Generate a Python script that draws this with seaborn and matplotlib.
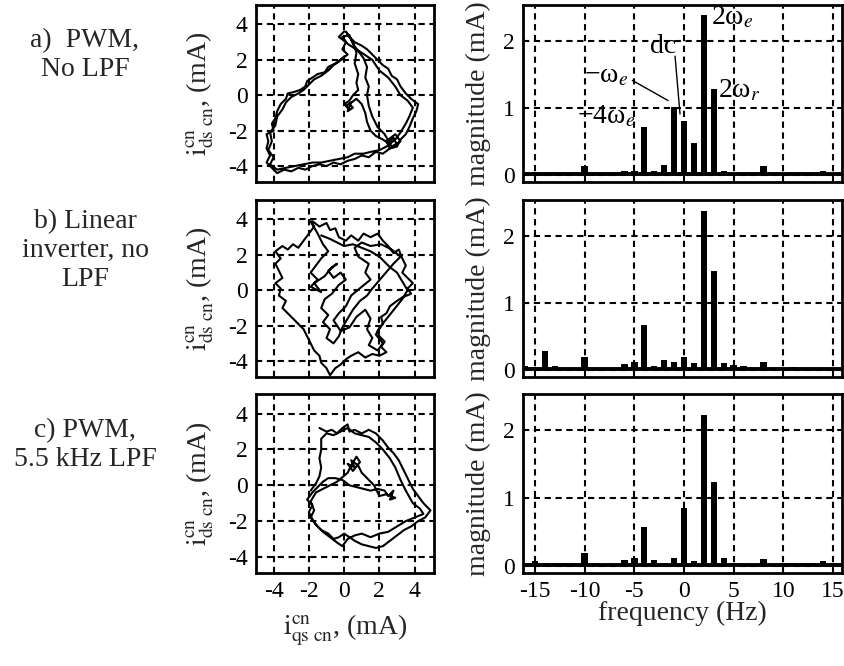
import matplotlib
matplotlib.use("Agg")
import matplotlib.pyplot as plt
import seaborn as sns
import pandas as pd

sns.set_style("white")
plt.rcParams["font.family"] = ["Liberation Serif", "DejaVu Serif"]
plt.rcParams["mathtext.fontset"] = "stix"
plt.rcParams["axes.unicode_minus"] = False

# ---------------- data ----------------
row_titles = ["a)  PWM,\nNo LPF", "b) Linear\ninverter, no\nLPF", "c) PWM,\n5.5 kHz LPF"]

freq = list(range(-16, 17))
mag_a = [0.04, 0.05, 0.04, 0.02, 0.04, 0.04, 0.14, 0.04, 0.02, 0.04, 0.07, 0.07, 0.72, 0.06, 0.15, 1.01,
         0.80, 0.48, 2.38, 1.28, 0.065, 0.03, 0.04, 0.02, 0.14, 0.04, 0.03, 0.02, 0.02, 0.02, 0.06, 0.03, 0.03]
mag_b = [0.07, 0.05, 0.29, 0.07, 0.02, 0.02, 0.19, 0.02, 0.02, 0.02, 0.10, 0.13, 0.67, 0.07, 0.16, 0.12,
         0.20, 0.11, 2.36, 1.47, 0.11, 0.08, 0.06, 0.04, 0.13, 0.035, 0.035, 0.045, 0.02, 0.035, 0.035, 0.035, 0.035]
mag_c = [0.05, 0.07, 0.05, 0.04, 0.04, 0.05, 0.20, 0.05, 0.03, 0.03, 0.085, 0.12, 0.57, 0.085, 0.05, 0.12,
         0.86, 0.08, 2.22, 1.23, 0.12, 0.04, 0.03, 0.03, 0.10, 0.03, 0.04, 0.04, 0.04, 0.04, 0.08, 0.04, 0.04]

traj_a = [(0.0, 3.6), (-0.3, 3.3), (0.1, 3.0), (-0.1, 2.6), (0.2, 2.3), (-0.2, 2.0), (-0.5, 1.8), (-0.9, 1.6),
          (-1.1, 1.3), (-1.5, 1.2), (-1.8, 1.0), (-2.1, 0.8), (-2.2, 0.5), (-2.5, 0.3), (-2.8, 0.2), (-3.2, 0.1),
          (-3.3, -0.2), (-3.6, -0.5), (-3.8, -0.9), (-3.9, -1.3), (-4.1, -1.6), (-4.0, -2.0), (-4.4, -2.2),
          (-4.3, -2.6), (-4.4, -3.0), (-4.2, -3.4), (-4.4, -3.8), (-4.1, -4.1), (-3.8, -4.4), (-3.4, -4.2),
          (-3.0, -4.3), (-2.6, -4.1), (-2.2, -4.2), (-1.8, -4.0), (-1.4, -3.9), (-1.0, -4.0), (-0.6, -3.8),
          (-0.2, -3.9), (0.2, -3.7), (0.6, -3.6), (1.0, -3.4), (1.4, -3.5), (1.8, -3.2), (2.2, -3.3), (2.6, -3.0),
          (3.0, -2.9), (3.2, -2.5), (3.5, -2.2), (3.7, -1.8), (3.9, -1.3), (4.1, -0.9), (4.2, -0.5), (3.8, -0.2),
          (3.5, 0.1), (3.2, 0.5), (3.0, 0.9), (2.7, 1.1), (2.5, 1.5), (2.2, 1.7), (1.9, 2.0), (1.6, 2.3),
          (1.3, 2.6), (1.0, 2.8), (0.6, 3.0), (0.3, 3.3), (0.1, 3.6), (0.5, 3.0), (0.7, 2.4), (0.6, 1.8),
          (0.8, 1.2), (0.7, 0.7), (0.8, 0.3), (0.5, 0.0), (0.3, -0.3), (0.0, -0.5), (0.3, -0.8), (0.1, -0.6),
          (0.4, -0.4), (0.2, -0.9), (0.5, -0.7), (0.3, -0.5), (0.7, -0.2), (1.0, -0.5), (1.2, -1.0), (1.3, -1.5),
          (1.5, -2.0), (1.8, -2.3), (2.2, -2.5), (2.5, -2.7), (2.8, -2.4), (3.0, -2.8), (2.6, -3.0), (2.4, -2.6),
          (2.9, -2.2), (3.2, -2.6), (2.7, -2.9), (2.3, -2.2), (1.9, -1.8), (1.6, -1.2), (1.4, -0.6), (1.3, 0.0),
          (1.4, 0.5), (1.2, 1.0), (1.3, 1.6), (1.1, 2.1), (0.8, 2.5), (0.5, 2.9), (0.3, 3.4), (-0.1, 3.3),
          (0.2, 2.9), (1.0, 2.4), (1.6, 2.0), (2.0, 1.4), (2.5, 1.0), (2.9, 0.5), (3.2, 0.0), (3.6, -0.3),
          (3.9, -0.7), (3.7, -1.2), (3.5, -1.6), (3.2, -2.1), (2.9, -2.5), (2.4, -2.9), (2.0, -3.1), (1.5, -3.2),
          (1.1, -3.3), (0.6, -3.3), (0.2, -3.5), (-0.3, -3.6), (-0.8, -3.7), (-1.3, -3.8), (-1.8, -3.8),
          (-2.3, -3.9), (-2.8, -4.0), (-3.3, -4.1), (-3.8, -4.2), (-4.2, -3.9), (-4.0, -3.5), (-4.3, -3.1),
          (-4.1, -2.6), (-4.2, -2.1), (-3.9, -1.7), (-3.8, -1.2), (-3.5, -0.8), (-3.3, -0.4), (-3.0, -0.1),
          (-2.6, 0.1), (-2.3, 0.3), (-2.0, 0.6), (-1.7, 0.9), (-1.3, 1.1), (-0.9, 1.4), (-0.6, 1.7), (-0.3, 1.9),
          (0.0, 2.2)]

traj_b = [(-1.8, 3.9), (-1.4, 3.6), (-1.0, 3.8), (-0.8, 3.4), (-0.5, 3.5), (-0.3, 3.0), (0.1, 2.8), (0.4, 3.1),
          (0.8, 2.8), (1.1, 3.2), (1.5, 3.0), (1.9, 3.2), (2.2, 2.8), (2.5, 2.5), (2.8, 2.1), (3.1, 2.3),
          (3.3, 1.8), (3.5, 1.4), (3.3, 1.0), (3.6, 0.7), (3.9, 0.4), (3.6, 0.1), (3.8, -0.2), (3.3, -0.4),
          (3.0, -0.6), (2.6, -0.9), (2.4, -1.3), (2.1, -1.5), (2.2, -1.9), (1.9, -2.3), (2.0, -2.6), (2.3, -2.9),
          (2.1, -3.2), (2.4, -3.5), (2.0, -3.7), (1.6, -3.6), (1.2, -3.8), (0.8, -3.5), (0.4, -3.7), (0.1, -3.9),
          (-0.2, -4.2), (-0.5, -4.4), (-0.8, -4.8), (-1.0, -4.4), (-1.3, -4.1), (-1.4, -3.7), (-1.7, -3.4),
          (-1.9, -3.0), (-2.1, -2.6), (-2.3, -2.2), (-2.6, -1.9), (-2.9, -1.6), (-3.2, -1.3), (-3.5, -1.0),
          (-3.3, -0.6), (-3.7, -0.3), (-3.6, 0.1), (-3.9, 0.4), (-3.5, 0.7), (-3.7, 1.1), (-3.9, 1.5),
          (-3.6, 1.8), (-3.9, 2.2), (-3.5, 2.5), (-3.2, 2.3), (-2.9, 2.6), (-2.6, 2.4), (-2.3, 2.8), (-2.0, 3.2),
          (-1.7, 3.6), (-1.9, 3.9), (-1.5, 3.2), (-1.2, 2.6), (-0.9, 2.2), (-1.3, 1.8), (-1.6, 1.4), (-1.9, 1.0),
          (-1.5, 0.6), (-1.9, 0.2), (-1.3, -0.1), (-1.7, 0.4), (-1.1, 0.8), (-0.7, 1.3), (-0.4, 1.5),
          (-0.9, 1.1), (-0.6, 0.7), (-0.2, 1.0), (0.1, 0.6), (-0.3, 0.3), (-0.7, -0.2), (-1.1, -0.5),
          (-1.3, -1.0), (-0.9, -1.4), (-1.2, -1.8), (-0.8, -2.2), (-1.0, -2.7), (-0.6, -3.0), (-0.3, -2.6),
          (-0.1, -2.1), (0.2, -1.6), (0.5, -1.1), (0.9, -0.6), (1.3, -0.3), (1.6, 0.1), (2.2, 0.8), (2.8, 1.5),
          (3.2, 1.9), (2.7, 2.3), (2.1, 2.6), (1.5, 2.5), (1.0, 2.7), (0.6, 2.4), (0.8, 1.9), (1.4, 1.5),
          (1.2, 1.0), (1.5, 0.6), (1.0, 0.2), (0.4, -0.3), (0.1, -0.9), (-0.3, -1.3), (-0.6, -1.7), (-0.2, -2.3),
          (0.3, -2.1), (0.7, -1.5), (1.2, -1.1), (1.5, -1.6), (1.3, -2.2), (1.6, -2.7), (1.4, -3.1), (1.9, -3.4),
          (2.2, -3.0), (1.8, -2.5), (2.1, -2.0), (2.5, -1.5), (2.9, -1.0), (3.3, -0.5), (3.6, 0.0), (3.3, 0.5),
          (3.0, 1.0), (2.6, 1.3), (2.0, 1.9), (1.5, 2.2), (1.0, 2.4), (0.5, 2.6), (0.0, 2.5), (-0.4, 2.7),
          (-0.8, 2.9), (-1.3, 3.1)]

traj_c = [(-1.4, 3.2), (-1.0, 3.0), (-0.7, 3.1), (-0.4, 2.9), (-0.1, 3.2), (0.2, 3.4), (0.3, 3.0), (0.6, 3.1),
          (1.0, 2.9), (1.4, 3.1), (1.8, 2.9), (2.2, 2.5), (2.5, 2.1), (2.8, 1.8), (3.1, 1.4), (3.3, 1.0),
          (3.5, 0.6), (3.7, 0.2), (3.9, -0.2), (4.2, -0.6), (4.5, -1.0), (4.9, -1.4), (4.6, -1.8), (4.2, -2.0),
          (3.8, -2.3), (3.4, -2.5), (3.0, -2.8), (2.6, -3.1), (2.2, -3.4), (1.8, -3.5), (1.4, -3.4), (1.0, -3.3),
          (0.6, -3.1), (0.3, -2.9), (0.0, -2.7), (-0.3, -2.9), (-0.6, -3.0), (-0.9, -2.7), (-1.3, -2.5),
          (-1.6, -2.2), (-1.8, -1.9), (-2.0, -1.5), (-1.8, -1.1), (-2.1, -0.8), (-1.8, -0.4), (-1.5, -0.1),
          (-1.2, 0.2), (-0.9, 0.4), (-0.5, 0.4), (-0.1, 0.3), (0.3, 0.0), (0.7, -0.1), (1.1, -0.2), (1.5, -0.3),
          (1.9, -0.2), (2.3, -0.3), (2.5, -0.6), (2.8, -0.3), (2.6, -0.8), (2.9, -0.7), (2.4, -0.5), (2.0, -0.6),
          (1.7, 0.0), (1.3, 0.4), (1.0, 0.7), (0.8, 1.1), (0.4, 1.4), (0.6, 1.0), (0.2, 1.2), (0.5, 0.8),
          (0.9, 1.3), (0.7, 1.6), (0.4, 1.1), (0.2, 0.7), (-0.4, 0.2), (-1.0, -0.1), (-1.6, -0.4), (-1.9, -0.9),
          (-1.7, -1.4), (-1.9, -1.8), (-1.6, -2.2), (-1.2, -2.6), (-0.8, -2.9), (-0.4, -3.2), (-0.1, -3.4),
          (0.2, -3.0), (0.6, -2.8), (1.0, -2.7), (1.5, -2.9), (2.0, -2.7), (2.5, -2.6), (3.0, -2.3), (3.5, -2.0),
          (4.0, -1.8), (4.5, -1.6), (4.3, -1.3), (3.9, -1.0), (3.5, -0.3), (3.2, 0.3), (2.9, 1.0), (2.6, 1.5),
          (2.2, 2.0), (1.8, 2.4), (1.4, 2.7), (1.0, 2.8), (0.6, 2.9), (0.2, 3.2), (-0.2, 3.0), (-0.6, 2.8),
          (-1.0, 2.9), (-1.3, 2.6), (-1.3, 2.0), (-1.4, 1.5), (-1.3, 1.0), (-1.4, 0.5), (-1.6, 0.1), (-1.9, -0.3)]

trajs = [traj_a, traj_b, traj_c]
mags = [mag_a, mag_b, mag_c]

# ---------------- layout ----------------
W, H = 844, 666
fig = plt.figure(figsize=(W / 100, H / 100), dpi=100)
rows = [(5, 182), (200, 377), (394, 573)]
grid_ls = (0, (3.0, 2.2))
tick_fs = 17
lab_fs = 20


def style_axes(ax):
    for s in ax.spines.values():
        s.set_color("black")
        s.set_linewidth(2.0)
    ax.grid(True, color="black", linestyle=grid_ls, linewidth=1.5)
    ax.tick_params(axis="both", length=0, labelsize=tick_fs, colors="black", pad=6)
    ax.set_xlabel("")
    ax.set_ylabel("")


for i, (top, bot) in enumerate(rows):
    b = (H - bot) / H
    h = (bot - top) / H
    # trajectory
    axl = fig.add_axes([256 / W, b, 178 / W, h])
    df = pd.DataFrame(trajs[i], columns=["q", "d"])
    sns.lineplot(data=df, x="q", y="d", sort=False, estimator=None, color="black", linewidth=1.5, ax=axl)
    axl.set_xlim(-5.0, 5.1)
    axl.set_ylim(-4.9, 5.1)
    axl.set_xticks([-4, -2, 0, 2, 4])
    axl.set_yticks([-4, -2, 0, 2, 4])
    style_axes(axl)
    if i < 2:
        axl.set_xticklabels([])

    # spectrum
    axr = fig.add_axes([523 / W, b, 319 / W, h])
    dfs = pd.DataFrame({"f": freq, "m": mags[i]})
    sns.barplot(data=dfs, x="f", y="m", native_scale=True, width=0.65, color="black", saturation=1,
                errorbar=None, linewidth=0, ax=axr)
    axr.axhline(0.02, color="black", linewidth=2.8, zorder=3)
    axr.set_xlim(-16.2, 15.9)
    axr.set_ylim(-0.1, 2.53)
    axr.set_xticks([-15, -10, -5, 0, 5, 10, 15])
    axr.set_yticks([0, 1, 2])
    style_axes(axr)
    axr.set_axisbelow(True)
    if i < 2:
        axr.set_xticklabels([])

    # row title and y labels
    fig.text(85 / W, 1 - ((top + bot) / 2 - 38) / H, row_titles[i], ha="center", va="center",
             fontsize=lab_fs, linespacing=1.2)
    fig.text(200 / W, 1 - ((top + bot) / 2) / H, r"$\mathrm{i}_{\mathrm{ds\ cn}}^{\mathrm{cn}}$, (mA)",
             rotation=90, ha="center", va="center", fontsize=lab_fs)
    fig.text(478 / W, 1 - ((top + bot) / 2) / H, "magnitude (mA)", rotation=90, ha="center", va="center",
             fontsize=lab_fs)

    if i == 0:
        kw = dict(fontsize=20, color="black", va="center")
        axr.text(2.7, 2.34, "2ω$_{e}$", ha="left", **kw)
        axr.text(-2.1, 1.92, "dc", ha="center", **kw)
        axr.text(-7.8, 1.47, "−ω$_{e}$", ha="center", **kw)
        axr.text(3.4, 1.26, "2ω$_{r}$", ha="left", **kw)
        axr.text(-7.8, 0.87, "−4ω$_{e}$", ha="center", **kw)
        axr.plot([-0.9, -0.4], [1.77, 0.91], color="black", linewidth=1.0)
        axr.plot([-5.2, -1.6], [1.41, 1.11], color="black", linewidth=1.0)

fig.text(345 / W, 1 - 630 / H, r"$\mathrm{i}_{\mathrm{qs\ cn}}^{\mathrm{cn}}$, (mA)", ha="center", va="center",
         fontsize=lab_fs)
fig.text(682 / W, 1 - 613 / H, "frequency (Hz)", ha="center", va="center", fontsize=lab_fs)

fig.savefig("out.png", dpi=100, facecolor="white")
